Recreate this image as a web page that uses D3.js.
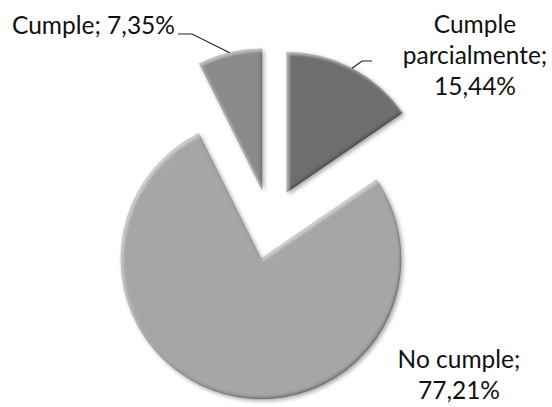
<!DOCTYPE html>
<html>
<head>
<meta charset="utf-8">
<script src="https://cdn.jsdelivr.net/npm/d3@7"></script>
<style>
  html, body { margin: 0; padding: 0; background: #fff; }
  svg { display: block; }
  text { font-family: Lato, "Open Sans", sans-serif; fill: #111; }
</style>
</head>
<body>
<svg id="chart" width="552" height="407"></svg>
<script>
// slice data, clockwise from 12 o'clock
const categories = ["Cumple parcialmente", "No cumple", "Cumple"];
const values = [15.44, 77.21, 7.35];
const colors = ["#6e6e6e", "#a6a6a6", "#8a8a8a"];
// label text lines (value line appended below)
const labelLines = [["Cumple", "parcialmente;"], ["No cumple;"], ["Cumple;"]];

const svg = d3.select("#chart"),
  width = +svg.attr("width"),
  height = +svg.attr("height");

const cx = 270, cy = 224, radius = 140, explode = 36;

// bevel + shadow filter, rough imitation of the office look
const defs = svg.append("defs");
const f = defs.append("filter").attr("id", "bevel")
  .attr("x", "-10%").attr("y", "-10%").attr("width", "125%").attr("height", "125%");
f.append("feComponentTransfer").attr("in", "SourceAlpha").attr("result", "inv")
  .append("feFuncA").attr("type", "table").attr("tableValues", "1 0");
f.append("feGaussianBlur").attr("in", "inv").attr("stdDeviation", 1.8).attr("result", "invBlur");
f.append("feOffset").attr("in", "invBlur").attr("dx", -1.5).attr("dy", -2).attr("result", "offDark");
f.append("feFlood").attr("flood-color", "#000").attr("flood-opacity", 0.5).attr("result", "black");
f.append("feComposite").attr("in", "black").attr("in2", "offDark").attr("operator", "in").attr("result", "dark1");
f.append("feComposite").attr("in", "dark1").attr("in2", "SourceAlpha").attr("operator", "in").attr("result", "dark");
f.append("feOffset").attr("in", "invBlur").attr("dx", 1.5).attr("dy", 2).attr("result", "offLight");
f.append("feFlood").attr("flood-color", "#fff").attr("flood-opacity", 0.45).attr("result", "white");
f.append("feComposite").attr("in", "white").attr("in2", "offLight").attr("operator", "in").attr("result", "light1");
f.append("feComposite").attr("in", "light1").attr("in2", "SourceAlpha").attr("operator", "in").attr("result", "light");
f.append("feGaussianBlur").attr("in", "SourceAlpha").attr("stdDeviation", 2).attr("result", "sBlur");
f.append("feOffset").attr("in", "sBlur").attr("dx", 1.5).attr("dy", 2).attr("result", "sOff");
f.append("feFlood").attr("flood-color", "#000").attr("flood-opacity", 0.35).attr("result", "sCol");
f.append("feComposite").attr("in", "sCol").attr("in2", "sOff").attr("operator", "in").attr("result", "shadow");
const m = f.append("feMerge");
["shadow", "SourceGraphic", "dark", "light"].forEach(n => m.append("feMergeNode").attr("in", n));

const pie = d3.pie().sort(null).value(d => d);
const arcs = pie(values);
const arc = d3.arc().innerRadius(0).outerRadius(radius);

const mid = d => (d.startAngle + d.endAngle) / 2;
const offset = d => [Math.sin(mid(d)) * explode, -Math.cos(mid(d)) * explode];

const g = svg.append("g").attr("transform", `translate(${cx},${cy})`);

g.selectAll("path.slice")
  .data(arcs)
  .join("path")
  .attr("class", "slice")
  .attr("transform", d => `translate(${offset(d)})`)
  .attr("d", arc)
  .attr("fill", (d, i) => colors[i])
  .attr("stroke", "#555")
  .attr("stroke-opacity", 0.5)
  .attr("stroke-width", 0.8)
  .attr("filter", "url(#bevel)");

// leader lines start on the outer edge at the slice middle
const edge = d => {
  const o = offset(d);
  return [cx + o[0] + Math.sin(mid(d)) * radius, cy + o[1] - Math.cos(mid(d)) * radius];
};
const leaders = [
  [edge(arcs[0]), [362, 61], [372, 61]],
  null,
  [edge(arcs[2]), [192, 34], [178, 34]]
];
svg.selectAll("path.leader")
  .data(leaders.filter(l => l))
  .join("path")
  .attr("class", "leader")
  .attr("d", d3.line())
  .attr("fill", "none")
  .attr("stroke", "#222")
  .attr("stroke-width", 1.2);

const fmt = v => v.toFixed(2).replace(".", ",") + "%";
const labelPos = [
  { x: 475, y: 33, anchor: "middle", inline: false },
  { x: 459, y: 368, anchor: "middle", inline: false },
  { x: 12, y: 34, anchor: "start", inline: true }
];
const lh = 31;

categories.forEach((c, i) => {
  const p = labelPos[i];
  let lines = labelLines[i].slice();
  if (p.inline) lines[lines.length - 1] += " " + fmt(values[i]);
  else lines.push(fmt(values[i]));
  const t = svg.append("text")
    .attr("text-anchor", p.anchor)
    .attr("font-size", 24.5);
  lines.forEach((s, k) => {
    t.append("tspan").attr("x", p.x).attr("y", p.y + k * lh).text(s);
  });
});
</script>
</body>
</html>
